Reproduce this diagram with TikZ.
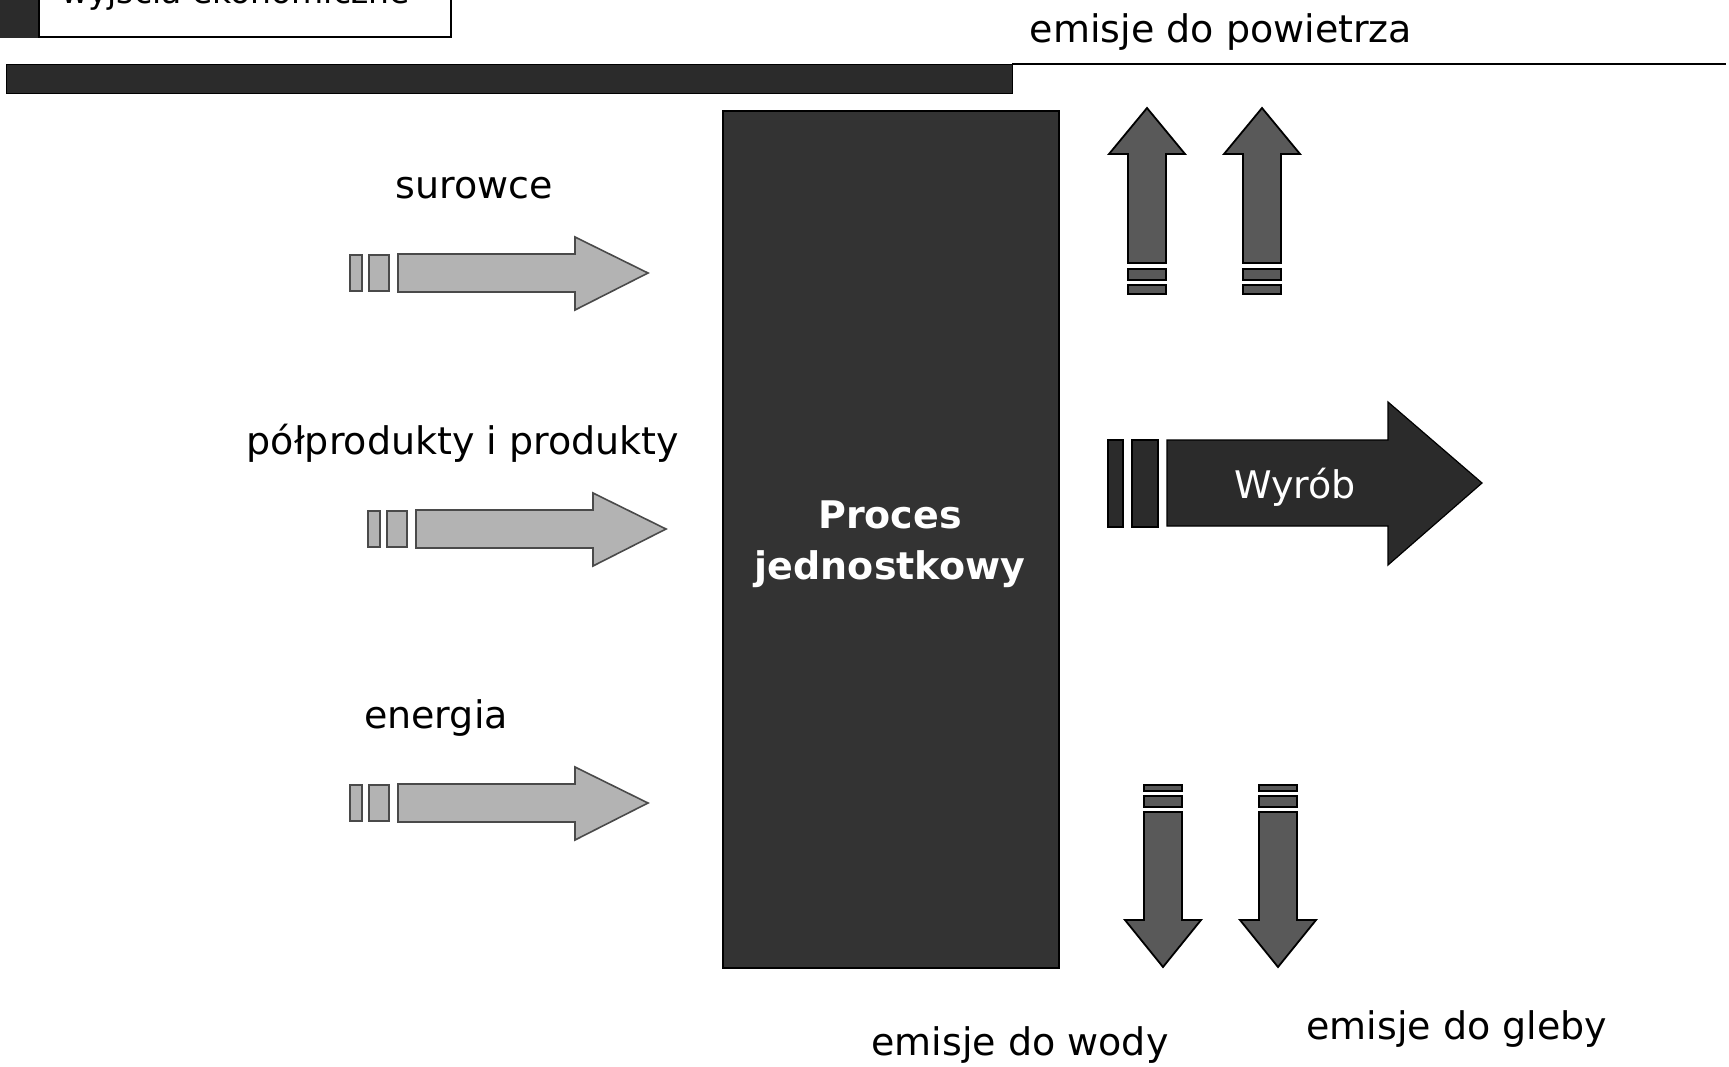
\documentclass[tikz,border=0pt]{standalone}
\usepackage{fontspec}
\setmainfont{DejaVu Sans}
\definecolor{boxdark}{HTML}{333333}
\definecolor{bardark}{HTML}{2B2B2B}
\definecolor{lightarrow}{HTML}{B3B3B3}
\definecolor{lightedge}{HTML}{4A4A4A}
\definecolor{midarrow}{HTML}{595959}
\tikzset{
  lgbox/.style={fill=lightarrow, draw=lightedge, line width=1.6, line join=miter},
  dgbox/.style={fill=midarrow, draw=black, line width=1.8, line join=miter},
  wybox/.style={fill=bardark, draw=black, line width=1.2, line join=miter},
  lbl/.style={anchor=base, inner sep=0pt, font=\fontsize{38}{44}\selectfont, text=black},
  wlbl/.style={anchor=base, inner sep=0pt, font=\fontsize{38}{44}\selectfont, text=white},
  blbl/.style={anchor=base, inner sep=0pt, align=center, font=\fontsize{38}{51}\selectfont\bfseries, text=white},
}
\newcommand\leftinarrow[2]{%
  \draw[lgbox] ({#1},{#2-18}) rectangle ({#1+12},{#2+18});
  \draw[lgbox] ({#1+19},{#2-18}) rectangle ({#1+39},{#2+18});
  \draw[lgbox] ({#1+48},{#2-19}) -- ({#1+225},{#2-19}) -- ({#1+225},{#2-36}) -- ({#1+298},{#2}) -- ({#1+225},{#2+37}) -- ({#1+225},{#2+19}) -- ({#1+48},{#2+19}) -- cycle;
}
\newcommand\upemarrow[1]{%
  \draw[dgbox] ({#1-19},263) -- ({#1-19},154) -- ({#1-38},154) -- ({#1},108) -- ({#1+38},154) -- ({#1+19},154) -- ({#1+19},263) -- cycle;
  \draw[dgbox] ({#1-19},269) rectangle ({#1+19},280);
  \draw[dgbox] ({#1-19},285) rectangle ({#1+19},294);
}
\newcommand\downemarrow[1]{%
  \draw[dgbox] ({#1-19},812) -- ({#1-19},920) -- ({#1-38},920) -- ({#1},967) -- ({#1+38},920) -- ({#1+19},920) -- ({#1+19},812) -- cycle;
  \draw[dgbox] ({#1-19},796) rectangle ({#1+19},807);
  \draw[dgbox] ({#1-19},785) rectangle ({#1+19},791);
}
\begin{document}
\begin{tikzpicture}[x=1pt, y=-1pt]
\useasboundingbox (0,0) rectangle (1729,1066);
% legend (cut off at the top, as in the reference)
\begin{scope}
  \clip (0,0) rectangle (460,42);
  \fill[bardark] (-2,-20) rectangle (39,38);
  \draw[fill=white, draw=black, line width=1.5] (39,-20) rectangle (451,37);
  \node[anchor=base west, inner sep=0pt, font=\fontsize{33}{38}\selectfont] (legend) at (61,3) {wyjścia ekonomiczne};
\end{scope}
% top bar and line
\draw[fill=bardark, draw=black, line width=1] (6,64) rectangle (1012,93);
\draw[line width=2] (1012,64) -- (1726,64);
\node[lbl] (powietrze) at (1221,42) {emisje do powietrza};
% main process box
\draw[fill=boxdark, draw=black, line width=2] (723,111) rectangle (1059,968);
\node[blbl] (proces) at (890,579) {Proces\\jednostkowy};
% inputs
\node[lbl] (surowce) at (474,198) {surowce};
\leftinarrow{350}{273}
\node[lbl] (polprod) at (463,454) {półprodukty i produkty};
\leftinarrow{368}{529}
\node[lbl] (energia) at (436,728) {energia};
\leftinarrow{350}{803}
% emissions to air
\upemarrow{1147}
\upemarrow{1262}
% product
\draw[wybox] (1108,440) rectangle (1123,527);
\draw[wybox] (1132,440) rectangle (1158,527);
\draw[wybox] (1167,440) -- (1388,440) -- (1388,402) -- (1482,483) -- (1388,565) -- (1388,526) -- (1167,526) -- cycle;
\node[wlbl] (wyrob) at (1295,498) {Wyrób};
% emissions to water and soil
\downemarrow{1163}
\downemarrow{1278}
\node[lbl] (woda) at (1020,1055) {emisje do wody};
\node[lbl] (gleba) at (1457,1039) {emisje do gleby};
\end{tikzpicture}
\end{document}
